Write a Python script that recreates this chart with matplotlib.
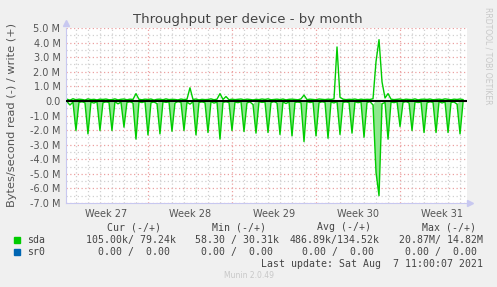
import numpy as np
import matplotlib
matplotlib.use("Agg")
import matplotlib.pyplot as plt

# 6-hourly samples starting Mon Jul 5 00:00 (day 0 = Mon Jul 12 00:00), values in MB/s
T0, STEP = -7.0, 0.25
read_m = [
    -0.10, -0.05, -0.28, -0.08,
    -2.03, -0.10, -0.06, -0.12,
    -2.26, -0.08, -0.15, -0.05,
    -2.03, -0.12, -0.07, -0.10,
    -2.03, -0.05, -0.20, -0.08,
    -1.80, -0.10, -0.06, -0.14,
    -2.62, -0.07, -0.11, -0.05,
    -2.33, -0.12, -0.08, -0.18,
    -2.26, -0.06, -0.10, -0.07,
    -2.08, -0.14, -0.05, -0.10,
    -2.03, -0.08, -0.22, -0.06,
    -2.33, -0.10, -0.07, -0.12,
    -2.17, -0.05, -0.15, -0.08,
    -2.62, -0.10, -0.06, -0.11,
    -2.03, -0.08, -0.12, -0.05,
    -2.10, -0.13, -0.07, -0.25,
    -2.21, -0.06, -0.10, -0.08,
    -2.17, -0.11, -0.05, -0.14,
    -2.30, -0.07, -0.18, -0.06,
    -2.40, -0.10, -0.08, -0.12,
    -2.79, -0.05, -0.11, -0.07,
    -2.40, -0.12, -0.06, -0.10,
    -2.56, -0.08, -0.14, -0.05,
    -2.30, -0.10, -0.07, -0.11,
    -2.21, -0.06, -0.12, -0.08,
    -2.49, -0.11, -0.05, -0.28,
    -4.90, -6.50, -0.20, -0.10,
    -2.62, -0.08, -0.12, -0.06,
    -1.76, -0.10, -0.05, -0.13,
    -2.03, -0.07, -0.11, -0.08,
    -2.17, -0.12, -0.06, -0.10,
    -2.17, -0.05, -0.14, -0.07,
    -2.17, -0.10, -0.08, -0.22,
    -2.26, -0.09,
]
write_m = [
    0.10, 0.12, 0.05, 0.15,
    0.08, 0.12, 0.10, 0.06,
    0.14, 0.09, 0.11, 0.07,
    0.12, 0.10, 0.13, 0.08,
    0.09, 0.14, 0.07, 0.11,
    0.13, 0.08, 0.12, 0.10,
    0.50, 0.11, 0.08, 0.12,
    0.10, 0.13, 0.06, 0.11,
    0.12, 0.08, 0.14, 0.09,
    0.11, 0.10, 0.07, 0.13,
    0.09, 0.12, 0.90, 0.10,
    0.13, 0.07, 0.11, 0.09,
    0.10, 0.14, 0.08, 0.12,
    0.50, 0.10, 0.30, 0.08,
    0.12, 0.09, 0.11, 0.13,
    0.08, 0.12, 0.10, 0.07,
    0.11, 0.09, 0.13, 0.10,
    0.14, 0.08, 0.10, 0.12,
    0.09, 0.13, 0.07, 0.11,
    0.12, 0.10, 0.08, 0.14,
    0.40, 0.09, 0.12, 0.10,
    0.08, 0.13, 0.11, 0.09,
    0.12, 0.10, 0.14, 3.70,
    0.25, 0.12, 0.09, 0.11,
    0.10, 0.13, 0.08, 0.12,
    0.09, 0.11, 0.10, 0.15,
    2.70, 4.20, 1.30, 0.20,
    0.50, 0.12, 0.09, 0.11,
    0.13, 0.08, 0.12, 0.10,
    0.09, 0.14, 0.07, 0.11,
    0.12, 0.10, 0.13, 0.08,
    0.10, 0.12, 0.09, 0.14,
    0.11, 0.08, 0.12, 0.10,
    0.13, 0.09,
]
weeks = ["Week 27", "Week 28", "Week 29", "Week 30", "Week 31"]
week_starts = [-7, 0, 7, 14, 21]
y_ticks = [5, 4, 3, 2, 1, 0, -1, -2, -3, -4, -5, -6, -7]

col_heads = ["Cur (-/+)", "Min (-/+)", "Avg (-/+)", "Max (-/+)"]
devices = ["sda", "sr0"]
dev_colors = ["#00cc00", "#0066b3"]
stats = [["105.00k/ 79.24k", "58.30 / 30.31k", "486.89k/134.52k", "20.87M/ 14.82M"],
         ["0.00 /  0.00", "0.00 /  0.00", "0.00 /  0.00", "0.00 /  0.00"]]
last_update = "Last update: Sat Aug  7 11:00:07 2021"

BG, INK, GRID, MAJ, AX = "#f0f0f0", "#555555", "#d0d0d0", "#eca0a0", "#c8c8f0"
W, H = 497, 287

t = T0 + np.arange(len(read_m)) * STEP
read = np.array(read_m); write = np.array(write_m)

fig = plt.figure(figsize=(W / 100, H / 100), dpi=100, facecolor=BG)
ax = fig.add_axes([66 / W, 1 - 203 / H, 401 / W, 175 / H])
ax.set_facecolor("white")
ax.set_xlim(-6.83, 26.58)
ax.set_ylim(-7.0, 5.0)

# grid: minor grey, major light red
for d in range(-6, 27):
    ax.axvline(d, color=MAJ if d in week_starts else GRID, lw=0.9, ls=(0, (1, 2)), zorder=0)
for y in np.arange(-7.0, 5.01, 0.5):
    ax.axhline(y, color=MAJ if y == int(y) else GRID, lw=0.9, ls=(0, (1, 2)), zorder=0)

ax.fill_between(t, read, 0, where=read < -0.3, interpolate=True, color="#8ee88e", lw=0, zorder=1)
ax.plot(t, read, color="#00cc00", lw=1.0, zorder=2)
ax.plot(t, write, color="#00cc00", lw=1.0, zorder=2)
ax.axhline(0, color="black", lw=1.5, zorder=3)

for sp in ("top", "right"): ax.spines[sp].set_visible(False)
for sp in ("left", "bottom"):
    ax.spines[sp].set_color(AX)
ax.plot([1.008], [0], marker=">", ms=4, color=AX, transform=ax.transAxes, clip_on=False)
ax.plot([0], [1.03], marker="^", ms=4, color=AX, transform=ax.transAxes, clip_on=False)

ax.set_yticks(y_ticks)
ax.set_yticklabels(["0.0" if v == 0 else f"{v:.1f} M" for v in y_ticks])
ax.set_xticks([w + 3.5 for w in week_starts])
ax.set_xticklabels(weeks)
ax.tick_params(length=0, labelsize=7, colors=INK, pad=4)

fig.text(248 / W, 1 - 20 / H, "Throughput per device - by month", ha="center", va="center",
         fontsize=9.5, color="#444444")
fig.text(12 / W, 1 - 115 / H, "Bytes/second read (-) / write (+)", rotation=90,
         ha="center", va="center", fontsize=8.2, color=INK)
fig.text(488 / W, 1 - 56 / H, "RRDTOOL / TOBI OETIKER", rotation=270, ha="center",
         va="center", fontsize=5.5, color="#c8c8c8")

# legend table
mono = dict(family="DejaVu Sans Mono", fontsize=7.1, color="#444444", va="center")
head_x = [134, 239, 344, 449]
for x, s in zip(head_x, col_heads):
    fig.text(x / W, 1 - 227 / H, s, ha="center", **mono)
row_y = [240, 252]
col_end = [176, 279, 380, 483]
for i, (dev, c) in enumerate(zip(devices, dev_colors)):
    y = 1 - row_y[i] / H
    fig.patches.append(plt.Rectangle((14 / W, y - 3 / H), 6 / W, 6 / H, color=c,
                                     transform=fig.transFigure))
    fig.text(27 / W, y, dev, ha="left", **mono)
    for x, s in zip(col_end, stats[i]):
        fig.text((x - (6 if i else 0)) / W, y, s, ha="right", **mono)
fig.text(483 / W, 1 - 264 / H, last_update, ha="right", **mono)
fig.text(249 / W, 1 - 276 / H, "Munin 2.0.49", ha="center", va="center", fontsize=5.5,
         color="#c8c8c8")

fig.savefig("out.png", dpi=100, facecolor=BG)
